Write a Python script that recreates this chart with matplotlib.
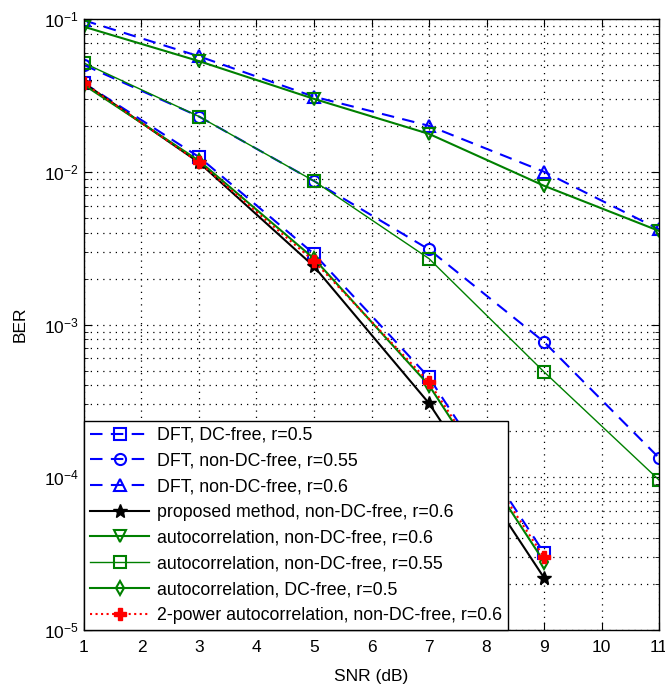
import matplotlib
matplotlib.use("Agg")
import matplotlib.pyplot as plt
from matplotlib.ticker import LogLocator, NullFormatter

plt.rcParams['font.family'] = ['Liberation Sans', 'DejaVu Sans']

snr = [1, 3, 5, 7, 9, 11]
snr9 = [1, 3, 5, 7, 9]

dft_dc_05 = [0.038, 0.0125, 0.0029, 4.5e-4, 3.2e-5]
dft_ndc_055 = [0.050, 0.023, 0.0087, 0.0031, 7.7e-4, 1.34e-4]
dft_ndc_06 = [0.098, 0.057, 0.031, 0.020, 0.0100, 0.0042]
proposed_06 = [0.038, 0.0115, 0.0024, 3.05e-4, 2.2e-5]
auto_ndc_06 = [0.089, 0.053, 0.030, 0.0177, 0.0081, 0.0041]
auto_ndc_055 = [0.0515, 0.023, 0.0087, 0.0027, 4.9e-4, 9.6e-5]
auto_dc_05 = [0.037, 0.0118, 0.0027, 4.0e-4, 2.8e-5]
pow2_ndc_06 = [0.038, 0.0115, 0.0026, 4.2e-4, 3.0e-5]

labels = [
    "DFT, DC-free, r=0.5",
    "DFT, non-DC-free, r=0.55",
    "DFT, non-DC-free, r=0.6",
    "proposed method, non-DC-free, r=0.6",
    "autocorrelation, non-DC-free, r=0.6",
    "autocorrelation, non-DC-free, r=0.55",
    "autocorrelation, DC-free, r=0.5",
    "2-power autocorrelation, non-DC-free, r=0.6",
]

fig = plt.figure(figsize=(6.65, 6.89), dpi=100)
ax = fig.add_axes([0.1263, 0.0856, 0.8647, 0.8868])

blue = '#0000ff'
green = '#008000'
dash = (0, (6, 4))
lw = 1.5
ms = 9

ax.plot(snr9, dft_dc_05, color=blue, ls=dash, lw=lw, marker='s', ms=ms, mfc='none', mew=1.5, label=labels[0])
ax.plot(snr, dft_ndc_055, color=blue, ls=dash, lw=lw, marker='o', ms=ms - 1, mfc='none', mew=1.5, label=labels[1])
ax.plot(snr, dft_ndc_06, color=blue, ls=dash, lw=lw, marker='^', ms=ms, mfc='none', mew=1.5, label=labels[2])
ax.plot(snr9, proposed_06, color='black', ls='-', lw=lw, marker='*', ms=ms + 1, label=labels[3])
ax.plot(snr, auto_ndc_06, color=green, ls='-', lw=lw, marker='v', ms=ms, mfc='none', mew=1.5, label=labels[4])
ax.plot(snr, auto_ndc_055, color=green, ls='-', lw=1.0, marker='s', ms=ms, mfc='none', mew=1.5, label=labels[5])
ax.plot(snr9, auto_dc_05, color=green, ls='-', lw=lw, marker='d', ms=ms - 2, mfc='none', mew=1.5, label=labels[6])
ax.plot(snr9, pow2_ndc_06, color='red', ls=':', lw=lw, marker='P', ms=ms, label=labels[7])

ax.set_yscale('log')
ax.set_xlim(1, 11)
ax.set_ylim(1e-5, 1e-1)
ax.set_xticks(range(1, 12))
ax.yaxis.set_major_locator(LogLocator(base=10, numticks=10))
ax.yaxis.set_minor_locator(LogLocator(base=10, subs=range(2, 10), numticks=100))
ax.yaxis.set_minor_formatter(NullFormatter())

ax.grid(True, which='major', ls=(0, (1, 4)), color='black', lw=0.9)
ax.grid(True, which='minor', axis='y', ls=(0, (1, 4)), color='black', lw=0.9)
ax.tick_params(which='both', direction='in', top=True, right=True, labelsize=12.5)
ax.tick_params(which='major', length=6)
ax.tick_params(which='minor', length=3)
ax.tick_params(axis='x', pad=7)
for s in ax.spines.values():
    s.set_linewidth(1.0)

ax.set_xlabel("SNR (dB)", fontsize=12.5, labelpad=10)
ax.set_ylabel("BER", fontsize=12.5, labelpad=12)

leg = ax.legend(loc='lower left', fontsize=12.8, frameon=True, fancybox=False,
                edgecolor='black', framealpha=1, handlelength=3.3,
                borderaxespad=0.0, labelspacing=0.49, handletextpad=0.45,
                borderpad=0.35)
leg.get_frame().set_linewidth(1.0)

fig.savefig("out.png", dpi=100)
